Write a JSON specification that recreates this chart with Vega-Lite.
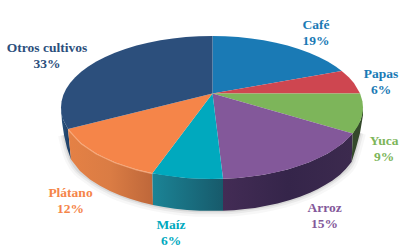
{"$schema":"https://vega.github.io/schema/vega-lite/v6.json","width":415,"height":252,"autosize":{"type":"fit","contains":"padding"},"padding":0,"background":"white","view":{"stroke":null},
"datasets":{
"etiquetas":[
{"cultivo":"Café","pct":"19%","x":316,"y":25,"tono":"a"},
{"cultivo":"Papas","pct":"6%","x":381,"y":74,"tono":"a"},
{"cultivo":"Yuca","pct":"9%","x":384,"y":141,"tono":"c"},
{"cultivo":"Arroz","pct":"15%","x":324.5,"y":208,"tono":"d"},
{"cultivo":"Maíz","pct":"6%","x":171,"y":225,"tono":"e"},
{"cultivo":"Plátano","pct":"12%","x":70.5,"y":193,"tono":"f"},
{"cultivo":"Otros cultivos","pct":"33%","x":47,"y":48,"tono":"g"}],
"caras":[
{"c":"Café","o":0,"x":212.5,"y":93.5},{"c":"Café","o":1,"x":212.5,"y":36},{"c":"Café","o":1.5,"x":225.2,"y":36.3},{"c":"Café","o":2,"x":238.2,"y":37.1},{"c":"Café","o":2.5,"x":251.1,"y":38.4},{"c":"Café","o":3,"x":263.6,"y":40.3},{"c":"Café","o":3.5,"x":275.9,"y":42.7},{"c":"Café","o":4,"x":287.5,"y":45.6},{"c":"Café","o":4.5,"x":298.7,"y":48.9},{"c":"Café","o":5,"x":309.1,"y":52.7},{"c":"Café","o":5.5,"x":318.8,"y":56.9},{"c":"Café","o":6,"x":327.7,"y":61.5},{"c":"Café","o":6.5,"x":335.7,"y":66.5},{"c":"Café","o":7,"x":341.7,"y":70.9},
{"c":"Papas","o":0,"x":212.5,"y":93.5},{"c":"Papas","o":1,"x":341.7,"y":70.9},{"c":"Papas","o":1.5,"x":348.8,"y":77.3},{"c":"Papas","o":2,"x":353.9,"y":83},{"c":"Papas","o":3,"x":360.1,"y":93.5},
{"c":"Yuca","o":0,"x":212.5,"y":93.5},{"c":"Yuca","o":1,"x":360.1,"y":93.5},{"c":"Yuca","o":1.5,"x":362.4,"y":101.3},{"c":"Yuca","o":2,"x":363,"y":107.5},{"c":"Yuca","o":2.5,"x":362.4,"y":113.7},{"c":"Yuca","o":3,"x":360.7,"y":119.9},{"c":"Yuca","o":3.5,"x":357.9,"y":126},{"c":"Yuca","o":4,"x":352.7,"y":133.4},
{"c":"Arroz","o":0,"x":212.5,"y":93.5},{"c":"Arroz","o":1,"x":352.7,"y":133.4},{"c":"Arroz","o":1.5,"x":348.8,"y":137.7},{"c":"Arroz","o":2,"x":342.8,"y":143.3},{"c":"Arroz","o":2.5,"x":335.7,"y":148.5},{"c":"Arroz","o":3,"x":327.7,"y":153.5},{"c":"Arroz","o":3.5,"x":318.8,"y":158.1},{"c":"Arroz","o":4,"x":309.1,"y":162.3},{"c":"Arroz","o":4.5,"x":298.7,"y":166.1},{"c":"Arroz","o":5,"x":287.5,"y":169.4},{"c":"Arroz","o":5.5,"x":275.9,"y":172.3},{"c":"Arroz","o":6,"x":263.6,"y":174.7},{"c":"Arroz","o":6.5,"x":251.1,"y":176.6},{"c":"Arroz","o":7,"x":238.2,"y":177.9},{"c":"Arroz","o":8,"x":223,"y":178.8},
{"c":"Maíz","o":0,"x":212.5,"y":93.5},{"c":"Maíz","o":1,"x":223,"y":178.8},{"c":"Maíz","o":2,"x":212,"y":179},{"c":"Maíz","o":2.5,"x":198.8,"y":178.7},{"c":"Maíz","o":3,"x":185.8,"y":177.9},{"c":"Maíz","o":3.3,"x":172.9,"y":176.6},{"c":"Maíz","o":3.6,"x":160.4,"y":174.7},{"c":"Maíz","o":4,"x":152.3,"y":173.2},
{"c":"Plátano","o":0,"x":212.5,"y":93.5},{"c":"Plátano","o":1,"x":152.3,"y":173.2},{"c":"Plátano","o":2,"x":136.5,"y":169.4},{"c":"Plátano","o":2.5,"x":125.3,"y":166.1},{"c":"Plátano","o":3,"x":114.9,"y":162.3},{"c":"Plátano","o":3.5,"x":105.2,"y":158.1},{"c":"Plátano","o":4,"x":96.3,"y":153.5},{"c":"Plátano","o":4.5,"x":88.3,"y":148.5},{"c":"Plátano","o":5,"x":81.2,"y":143.3},{"c":"Plátano","o":5.5,"x":75.2,"y":137.7},{"c":"Plátano","o":6,"x":68,"y":129},
{"c":"Otros cultivos","o":0,"x":212.5,"y":93.5},{"c":"Otros cultivos","o":1,"x":68,"y":129},{"c":"Otros cultivos","o":2,"x":63.3,"y":119.9},{"c":"Otros cultivos","o":2.5,"x":61.6,"y":113.7},{"c":"Otros cultivos","o":3,"x":61,"y":107.5},{"c":"Otros cultivos","o":3.5,"x":61.6,"y":101.3},{"c":"Otros cultivos","o":4,"x":63.3,"y":95.1},{"c":"Otros cultivos","o":4.5,"x":66.1,"y":89},{"c":"Otros cultivos","o":5,"x":70.1,"y":83},{"c":"Otros cultivos","o":5.5,"x":75.2,"y":77.3},{"c":"Otros cultivos","o":6,"x":81.2,"y":71.7},{"c":"Otros cultivos","o":6.5,"x":88.3,"y":66.5},{"c":"Otros cultivos","o":7,"x":96.3,"y":61.5},{"c":"Otros cultivos","o":7.5,"x":105.2,"y":56.9},{"c":"Otros cultivos","o":8,"x":114.9,"y":52.7},{"c":"Otros cultivos","o":8.5,"x":125.3,"y":48.9},{"c":"Otros cultivos","o":9,"x":136.5,"y":45.6},{"c":"Otros cultivos","o":9.5,"x":148.2,"y":42.7},{"c":"Otros cultivos","o":10,"x":160.4,"y":40.3},{"c":"Otros cultivos","o":10.5,"x":172.9,"y":38.4},{"c":"Otros cultivos","o":11,"x":185.8,"y":37.1},{"c":"Otros cultivos","o":11.5,"x":198.8,"y":36.3},{"c":"Otros cultivos","o":12,"x":212.5,"y":36}],
"lados":[
{"c":"Otros cultivos","o":0,"x":61,"y":107.5},{"c":"Otros cultivos","o":1,"x":63.3,"y":119.9},{"c":"Otros cultivos","o":2,"x":68,"y":129},{"c":"Otros cultivos","o":3,"x":71,"y":159.5},{"c":"Otros cultivos","o":4,"x":67,"y":148},{"c":"Otros cultivos","o":5,"x":64,"y":135},{"c":"Otros cultivos","o":6,"x":62,"y":122},
{"c":"Plátano","o":0,"x":68,"y":129},{"c":"Plátano","o":1,"x":81.2,"y":143.3},{"c":"Plátano","o":2,"x":96.3,"y":153.5},{"c":"Plátano","o":3,"x":114.9,"y":162.3},{"c":"Plátano","o":4,"x":136.5,"y":169.4},{"c":"Plátano","o":5,"x":152.3,"y":173.2},{"c":"Plátano","o":6,"x":153,"y":205},{"c":"Plátano","o":6.5,"x":141.5,"y":202.2},{"c":"Plátano","o":7,"x":130,"y":198.8},{"c":"Plátano","o":7.5,"x":120,"y":195.3},{"c":"Plátano","o":8,"x":110,"y":191},{"c":"Plátano","o":8.5,"x":100,"y":185.8},{"c":"Plátano","o":9,"x":90,"y":179.4},{"c":"Plátano","o":9.5,"x":80,"y":171},{"c":"Plátano","o":10,"x":71,"y":159.5},
{"c":"Maíz","o":0,"x":152.3,"y":173.2},{"c":"Maíz","o":1,"x":185.8,"y":177.9},{"c":"Maíz","o":2,"x":212,"y":179},{"c":"Maíz","o":3,"x":223,"y":178.8},{"c":"Maíz","o":4,"x":223,"y":210.8},{"c":"Maíz","o":5,"x":200,"y":210.8},{"c":"Maíz","o":5.5,"x":187,"y":209.9},{"c":"Maíz","o":6,"x":175,"y":208.7},{"c":"Maíz","o":6.5,"x":164,"y":207.1},{"c":"Maíz","o":7,"x":153,"y":205},
{"c":"Arroz","o":0,"x":223,"y":178.8},{"c":"Arroz","o":1,"x":238.2,"y":177.9},{"c":"Arroz","o":2,"x":263.6,"y":174.7},{"c":"Arroz","o":3,"x":287.5,"y":169.4},{"c":"Arroz","o":4,"x":309.1,"y":162.3},{"c":"Arroz","o":5,"x":327.7,"y":153.5},{"c":"Arroz","o":6,"x":342.8,"y":143.3},{"c":"Arroz","o":7,"x":352.7,"y":133.4},{"c":"Arroz","o":8,"x":351.7,"y":161.7},{"c":"Arroz","o":8.5,"x":346,"y":168.8},{"c":"Arroz","o":9,"x":340,"y":174.8},{"c":"Arroz","o":9.5,"x":332.5,"y":180.5},{"c":"Arroz","o":10,"x":325,"y":185},{"c":"Arroz","o":10.5,"x":317.5,"y":189.3},{"c":"Arroz","o":11,"x":310,"y":192.8},{"c":"Arroz","o":11.5,"x":300,"y":196.7},{"c":"Arroz","o":12,"x":290,"y":200},{"c":"Arroz","o":12.5,"x":277.5,"y":203.5},{"c":"Arroz","o":13,"x":265,"y":206},{"c":"Arroz","o":13.5,"x":255,"y":207.9},{"c":"Arroz","o":14,"x":245,"y":209},{"c":"Arroz","o":14.5,"x":234,"y":210.2},{"c":"Arroz","o":15,"x":223,"y":210.8},
{"c":"Yuca","o":0,"x":363,"y":107.5},{"c":"Yuca","o":1,"x":360.7,"y":119.9},{"c":"Yuca","o":2,"x":352.7,"y":133.4},{"c":"Yuca","o":3,"x":351.7,"y":161.7},{"c":"Yuca","o":4,"x":356,"y":148},{"c":"Yuca","o":5,"x":360,"y":133},{"c":"Yuca","o":6,"x":363,"y":115}],
"sombra":[
{"o":0,"x":64,"y":135},{"o":1,"x":67,"y":148},{"o":2,"x":71,"y":159.5},{"o":3,"x":90,"y":179.4},{"o":4,"x":110,"y":191},{"o":5,"x":130,"y":198.8},{"o":6,"x":153,"y":205},{"o":7,"x":175,"y":208.7},{"o":8,"x":200,"y":210.8},{"o":9,"x":223,"y":210.8},{"o":10,"x":245,"y":209},{"o":11,"x":265,"y":206},{"o":12,"x":290,"y":200},{"o":13,"x":310,"y":192.8},{"o":14,"x":325,"y":185},{"o":15,"x":340,"y":174.8},{"o":16,"x":351.7,"y":161.7},{"o":17,"x":356,"y":148},{"o":18,"x":360,"y":133}],
"brillo":[
{"o":0,"x":68,"y":129.5},{"o":1,"x":81.2,"y":143.8},{"o":2,"x":96.3,"y":154},{"o":3,"x":114.9,"y":162.8},{"o":4,"x":136.5,"y":169.9},{"o":5,"x":152.3,"y":173.7}]},
"encoding":{
"x":{"field":"x","type":"quantitative","axis":null,"scale":{"domain":[0,415],"nice":false,"zero":false}},
"y":{"field":"y","type":"quantitative","axis":null,"scale":{"domain":[252,0],"nice":false,"zero":false}},
"order":{"field":"o"}},
"layer":[
{"data":{"name":"sombra"},"mark":{"type":"line","stroke":"#000000","strokeWidth":12,"strokeOpacity":0.03,"interpolate":"monotone"}},
{"data":{"name":"sombra"},"mark":{"type":"line","stroke":"#000000","strokeWidth":7,"strokeOpacity":0.05,"interpolate":"monotone"}},
{"data":{"name":"sombra"},"mark":{"type":"line","stroke":"#000000","strokeWidth":3,"strokeOpacity":0.08,"interpolate":"monotone"}},
{"data":{"name":"lados"},"transform":[{"filter":"datum.c==='Otros cultivos'"}],"mark":{"type":"line","stroke":null,"fill":{"gradient":"linear","x1":0,"y1":0,"x2":1,"y2":0,"stops":[{"offset":0,"color":"#2A5480"},{"offset":1,"color":"#1D3A5E"}]}}},
{"data":{"name":"lados"},"transform":[{"filter":"datum.c==='Plátano'"}],"mark":{"type":"line","stroke":null,"fill":{"gradient":"linear","x1":0,"y1":0,"x2":1,"y2":0,"stops":[{"offset":0,"color":"#E58145"},{"offset":0.5,"color":"#DA7C44"},{"offset":1,"color":"#BE673A"}]}}},
{"data":{"name":"lados"},"transform":[{"filter":"datum.c==='Maíz'"}],"mark":{"type":"line","stroke":null,"fill":{"gradient":"linear","x1":0,"y1":0,"x2":1,"y2":0,"stops":[{"offset":0,"color":"#1B8496"},{"offset":1,"color":"#175A6B"}]}}},
{"data":{"name":"lados"},"transform":[{"filter":"datum.c==='Arroz'"}],"mark":{"type":"line","stroke":null,"fill":{"gradient":"linear","x1":0,"y1":0,"x2":1,"y2":0,"stops":[{"offset":0,"color":"#432C55"},{"offset":0.5,"color":"#35254A"},{"offset":1,"color":"#3C2A4E"}]}}},
{"data":{"name":"lados"},"transform":[{"filter":"datum.c==='Yuca'"}],"mark":{"type":"line","stroke":null,"fill":"#34492B"}},
{"data":{"name":"caras"},"mark":{"type":"line","stroke":null},"encoding":{"fill":{"field":"c","type":"nominal","legend":null,"scale":{"domain":["Café","Papas","Yuca","Arroz","Maíz","Plátano","Otros cultivos"],"range":["#1A7AB5","#CE4650","#7DB55A","#83589A","#00A9BE","#F58549","#2C4F7C"]}}}},
{"data":{"name":"brillo"},"mark":{"type":"line","stroke":"#FBB58C","strokeWidth":1.2,"strokeOpacity":0.7}},
{"data":{"name":"etiquetas"},"mark":{"type":"text","font":"Liberation Serif","fontWeight":"bold","fontSize":13.5,"align":"center","baseline":"middle"},"encoding":{"order":null,"text":{"field":"cultivo"},"color":{"field":"tono","type":"nominal","legend":null,"scale":{"domain":["a","c","d","e","f","g"],"range":["#1A7AB5","#7DB55A","#83589A","#00A9BE","#F58549","#2C4F7C"]}}}},
{"data":{"name":"etiquetas"},"mark":{"type":"text","font":"Liberation Serif","fontWeight":"bold","fontSize":13.5,"align":"center","baseline":"middle","dy":15.5},"encoding":{"order":null,"text":{"field":"pct"},"color":{"field":"tono","type":"nominal","legend":null,"scale":{"domain":["a","c","d","e","f","g"],"range":["#1A7AB5","#7DB55A","#83589A","#00A9BE","#F58549","#2C4F7C"]}}}}
],
"resolve":{"scale":{"color":"independent","fill":"independent"}}}
